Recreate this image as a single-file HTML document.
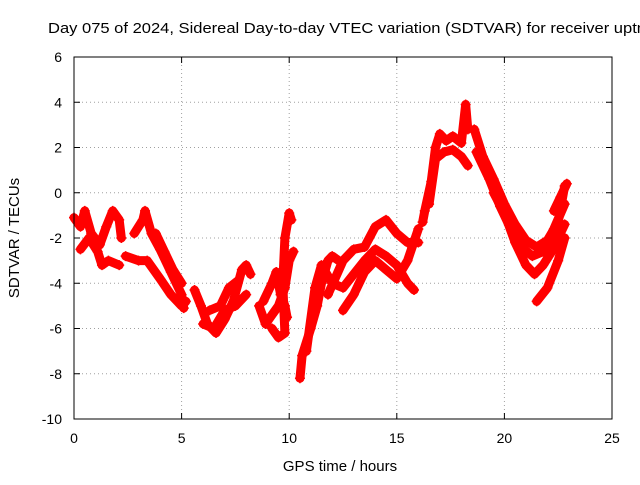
<!DOCTYPE html>
<html><head><meta charset="utf-8"><style>
body{margin:0;background:#fff;overflow:hidden}
svg{font-family:"Liberation Sans",sans-serif}
</style></head><body>
<svg width="640" height="480">
<g id="grid"></g>
<g id="ticks"></g>
<g id="marks"></g>
<rect x="74" y="57" width="538" height="362" fill="none" stroke="#000"/>
<text x="48" y="33" font-size="15" textLength="598" lengthAdjust="spacingAndGlyphs">Day 075 of 2024, Sidereal Day-to-day VTEC variation (SDTVAR) for receiver uptn</text>
<text x="340" y="471" font-size="15" text-anchor="middle">GPS time / hours</text>
<text x="19" y="238" font-size="15" text-anchor="middle" transform="rotate(-90 19 238)">SDTVAR / TECUs</text>
</svg>
<script>
const xTicks=[0,5,10,15,20,25];
const yTicks=[6,4,2,0,-2,-4,-6,-8,-10];
const tracks=[
[[0,-1.1],[0.3,-1.5],[0.5,-0.8],[0.8,-1.8],[1.2,-2.3],[1.5,-1.5],[1.8,-0.8],[2.1,-1.2],[2.2,-2.0]],
[[0.3,-2.5],[0.7,-2.0],[1.1,-2.6],[1.3,-3.2],[1.6,-3.0],[2.1,-3.2]],
[[2.4,-2.8],[3.0,-3.0],[3.4,-3.0],[4.0,-3.8],[4.5,-4.5],[5.0,-5.0],[5.2,-4.8]],
[[2.8,-1.8],[3.2,-1.2],[3.3,-0.8],[3.6,-1.8],[4.0,-2.5],[4.5,-3.5],[5.0,-4.5],[5.1,-5.1]],
[[3.8,-1.8],[4.2,-2.6],[4.6,-3.4],[5.0,-4.0]],
[[5.6,-4.3],[5.9,-5.0],[6.2,-5.8],[6.6,-6.2],[7.0,-5.6],[7.4,-4.8],[7.8,-3.4],[8.0,-3.2],[8.2,-3.6]],
[[6.3,-5.2],[6.8,-5.0],[7.2,-4.2],[7.6,-3.9]],
[[6.0,-5.8],[6.5,-6.0],[7.0,-5.2],[7.5,-5.0],[8.0,-4.5]],
[[8.6,-5.0],[8.9,-5.8],[9.2,-5.4],[9.5,-5.0],[9.8,-4.2],[10.0,-3.0],[10.2,-2.6]],
[[8.8,-4.8],[9.2,-4.0],[9.4,-3.5],[9.6,-4.5],[9.8,-5.0],[9.9,-5.5]],
[[9.2,-6.0],[9.5,-6.4],[9.8,-6.2],[9.7,-4.0],[9.8,-2.0],[10.0,-0.9],[10.1,-1.2]],
[[10.5,-8.2],[10.6,-7.2],[11.0,-6.0],[11.3,-5.0],[11.5,-4.0],[11.8,-3.0],[12.0,-2.8],[12.3,-3.0]],
[[10.8,-7.0],[11.2,-4.2],[11.5,-3.2],[12.0,-4.0],[12.5,-4.2],[13.0,-3.6],[13.5,-3.0],[14.0,-2.5],[14.5,-2.8],[15.0,-3.2],[15.5,-4.0],[15.8,-4.3]],
[[11.8,-4.5],[12.5,-3.0],[13.0,-2.5],[13.5,-2.4],[14.0,-1.5],[14.5,-1.2],[15.0,-1.8],[15.5,-2.2],[16.0,-2.2]],
[[12.5,-5.2],[13.0,-4.5],[13.5,-3.5],[14.0,-3.0],[14.5,-3.4],[15.0,-3.8],[15.5,-3.0],[16.0,-1.6]],
[[16.2,-1.3],[16.3,-0.8],[16.6,0.5],[16.8,2.0],[17.0,2.6],[17.3,2.3],[17.6,2.5],[18.0,2.2],[18.2,3.9],[18.3,2.8]],
[[16.5,-0.5],[16.8,1.5],[17.2,1.8],[17.6,1.9],[18.0,1.6],[18.3,1.2]],
[[18.6,2.8],[19.0,1.6],[19.5,0.6],[20.0,-0.5],[20.5,-1.4],[21.0,-2.1],[21.5,-2.4],[22.0,-2.1],[22.5,-1.3],[22.8,0.3]],
[[18.7,1.8],[19.3,0.6],[19.8,-0.6],[20.3,-1.6],[20.8,-2.4],[21.3,-2.8],[21.8,-2.6],[22.3,-1.6],[22.8,-0.5]],
[[19.5,0.0],[20.0,-0.9],[20.5,-2.2],[21.0,-3.2],[21.4,-3.6],[21.8,-3.2],[22.2,-2.6],[22.8,-1.4]],
[[21.5,-4.8],[22.0,-4.2],[22.5,-3.0],[22.8,-2.0]],
[[22.3,-0.8],[22.6,-0.2],[22.9,0.4]]
];
const NS="http://www.w3.org/2000/svg";
const X=t=>74+t*(538/25), Y=v=>419-(v+10)*(362/16);
function mk(tag,attrs,parent){const e=document.createElementNS(NS,tag);for(const k in attrs)e.setAttribute(k,attrs[k]);parent.appendChild(e);return e;}
const grid=document.getElementById('grid'),ticks=document.getElementById('ticks'),marks=document.getElementById('marks');
xTicks.forEach(t=>{
 if(t>0&&t<25){const g=mk('line',{x1:X(t),x2:X(t),y1:57,y2:419,stroke:'#a0a0a0','stroke-dasharray':'1,3'},grid);
 
 }
 const l=mk('text',{x:X(t),y:443,'font-size':14,'text-anchor':'middle'},ticks);l.textContent=t;
 
 
 mk('line',{x1:X(t),x2:X(t),y1:419,y2:413,stroke:'#000'},ticks);
 mk('line',{x1:X(t),x2:X(t),y1:57,y2:63,stroke:'#000'},ticks);
});
yTicks.forEach(v=>{
 if(v>-10&&v<6){const g=mk('line',{x1:74,x2:612,y1:Y(v),y2:Y(v),stroke:'#a0a0a0','stroke-dasharray':'1,3'},grid);
 
 }
 const l=mk('text',{x:62,y:Y(v)+5,'font-size':14,'text-anchor':'end'},ticks);l.textContent=v;
 
 
 mk('line',{x1:74,x2:80,y1:Y(v),y2:Y(v),stroke:'#000'},ticks);
 mk('line',{x1:612,x2:606,y1:Y(v),y2:Y(v),stroke:'#000'},ticks);
});
tracks.forEach((tr,i)=>{
 const pl=mk('polyline',{points:tr.map(p=>X(p[0])+','+Y(p[1])).join(' '),fill:'none',stroke:'#f00','stroke-width':9,'stroke-linejoin':'round','stroke-linecap':'round'},marks);
 
 
 tr.forEach(p=>{
  const m=mk('path',{d:`M${X(p[0])-5},${Y(p[1])}h10M${X(p[0])},${Y(p[1])-5}v10`,stroke:'#f00','stroke-width':1.5},marks);
  
  
 });
});
</script>
</body></html>
